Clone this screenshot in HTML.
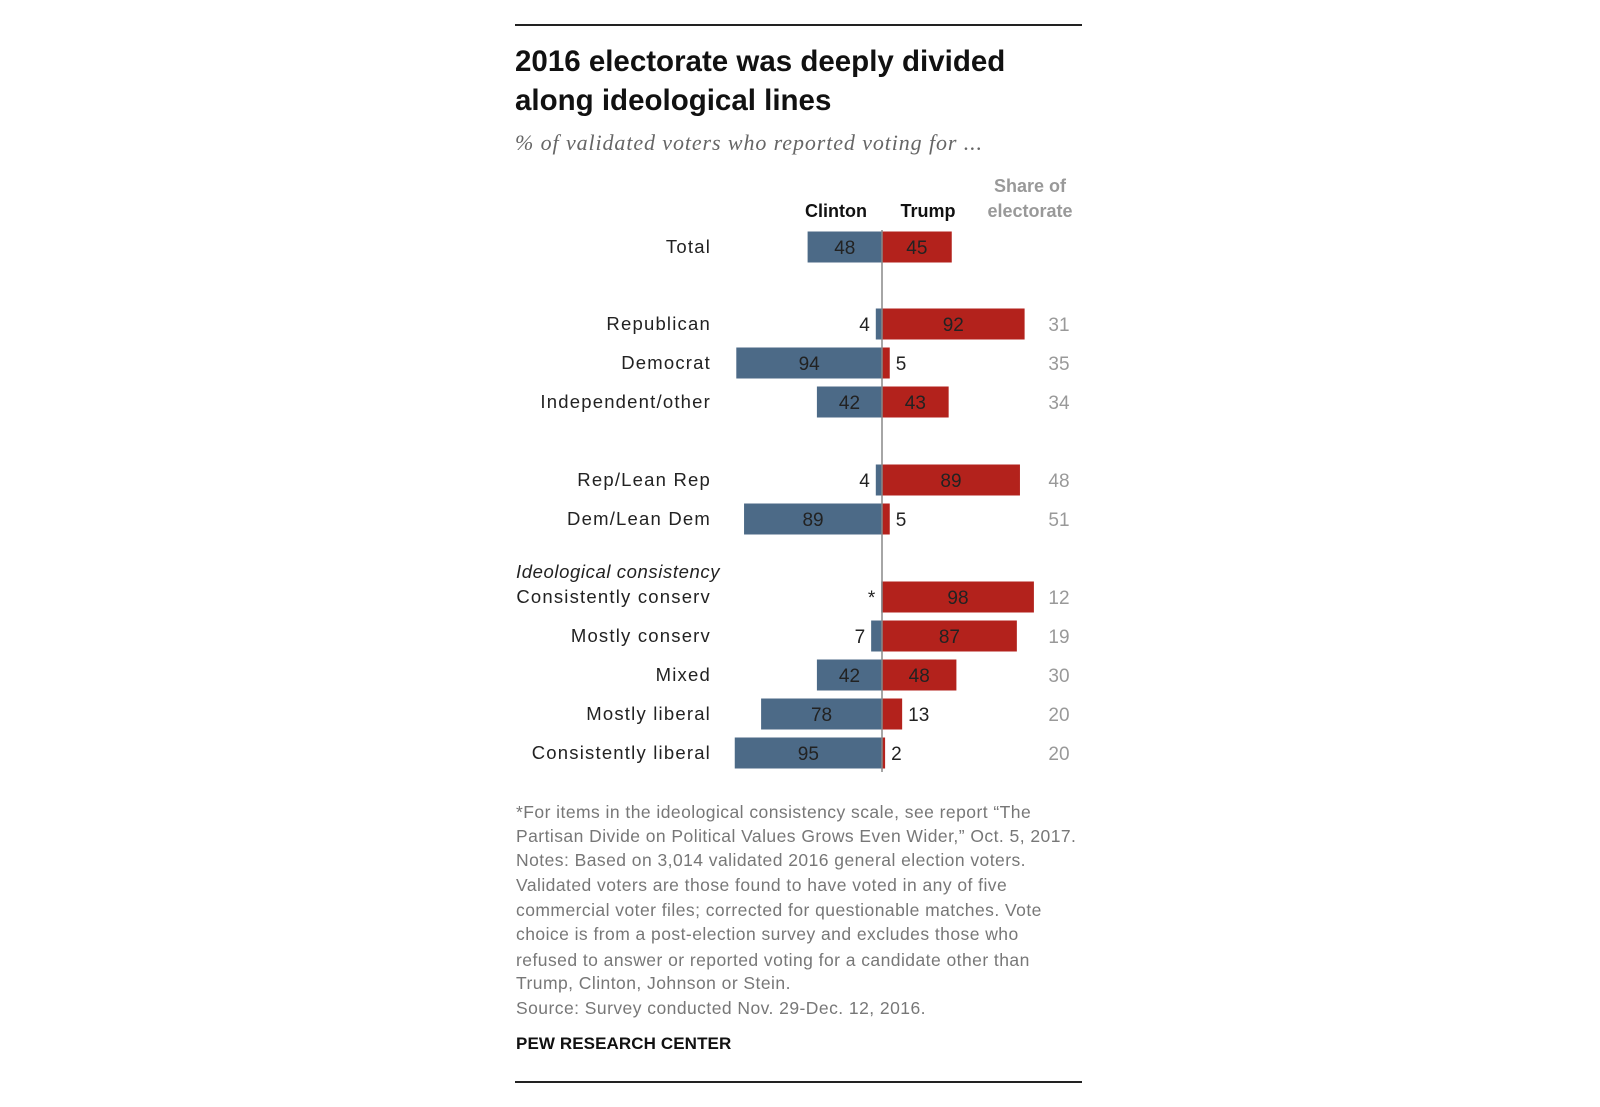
<!DOCTYPE html>
<html><head><meta charset="utf-8"><style>
html,body{margin:0;padding:0;background:#fff;}
svg{display:block;font-family:"Liberation Sans",sans-serif;}
</style></head><body>
<svg id="chart" width="1600" height="1107" viewBox="0 0 1600 1107" xmlns="http://www.w3.org/2000/svg">
<line x1="515" y1="25" x2="1082" y2="25" stroke="#222" stroke-width="2"/>
<text x="515" y="71" font-size="29.5" font-weight="bold" fill="#111">2016 electorate was deeply divided</text>
<text x="515" y="110" font-size="29.5" font-weight="bold" fill="#111">along ideological lines</text>
<text x="515" y="150" font-size="22" font-style="italic" font-family="Liberation Serif, serif" fill="#666" letter-spacing="0.9">% of validated voters who reported voting for ...</text>
<text x="836" y="217" font-size="18" font-weight="bold" text-anchor="middle" fill="#111">Clinton</text>
<text x="928" y="217" font-size="18" font-weight="bold" text-anchor="middle" fill="#111">Trump</text>
<text x="1030" y="192" font-size="18" font-weight="bold" text-anchor="middle" fill="#999">Share of</text>
<text x="1030" y="217" font-size="18" font-weight="bold" text-anchor="middle" fill="#999">electorate</text>
<text x="516" y="578" font-size="18.5" font-style="italic" fill="#222" letter-spacing="0.6">Ideological consistency</text>
<g id="bars"></g>
<g id="notes" font-size="17.5" fill="#777" letter-spacing="0.45">
<text x="516" y="818">*For items in the ideological consistency scale, see report “The</text>
<text x="516" y="842">Partisan Divide on Political Values Grows Even Wider,” Oct. 5, 2017.</text>
<text x="516" y="866">Notes: Based on 3,014 validated 2016 general election voters.</text>
<text x="516" y="891">Validated voters are those found to have voted in any of five</text>
<text x="516" y="916">commercial voter files; corrected for questionable matches. Vote</text>
<text x="516" y="940">choice is from a post-election survey and excludes those who</text>
<text x="516" y="966">refused to answer or reported voting for a candidate other than</text>
<text x="516" y="989">Trump, Clinton, Johnson or Stein.</text>
<text x="516" y="1014">Source: Survey conducted Nov. 29-Dec. 12, 2016.</text>
</g>
<text x="516" y="1049" font-size="17" font-weight="bold" fill="#111" letter-spacing="0.1">PEW RESEARCH CENTER</text>
<line x1="515" y1="1082" x2="1082" y2="1082" stroke="#222" stroke-width="2"/>
</svg>
<script>
const categories = ["Total","Republican","Democrat","Independent/other","Rep/Lean Rep","Dem/Lean Dem","Consistently conserv","Mostly conserv","Mixed","Mostly liberal","Consistently liberal"];
const clinton = [48,4,94,42,4,89,0.5,7,42,78,95];
const clintonLabels = ["48","4","94","42","4","89","*","7","42","78","95"];
const trump = [45,92,5,43,89,5,98,87,48,13,2];
const share = ["","31","35","34","48","51","12","19","30","20","20"];
const rowSlots = [0,2,3,4,6,7,9,10,11,12,13];

const axisX = 882, pxPerUnit = 1.55, barH = 31;
function xScale(v){ return v*pxPerUnit; }
function yCenter(i){
  const s = rowSlots[i];
  const base = [247,0,324,363,402,0,480,519,0,597,636,675,714,753];
  return base[s];
}
const NS="http://www.w3.org/2000/svg";
const g=document.getElementById('bars');
function mk(tag,attrs,txt){const e=document.createElementNS(NS,tag);for(const k in attrs)e.setAttribute(k,attrs[k]);if(txt!==undefined)e.textContent=txt;g.appendChild(e);return e;}
categories.forEach((c,i)=>{
  const y=yCenter(i);
  const lab=mk('text',{x:711,y:y+6,'font-size':18.5,'text-anchor':'end',fill:'#222','letter-spacing':1.2},c);
  
  
  const cw=xScale(clinton[i]);
  const cb=mk('rect',{x:axisX-cw,y:y-barH/2,width:cw,height:barH,fill:'#4c6a87'});
  
  
  const inside=clinton[i]>=20;
  const ct=mk('text',{x:inside?axisX-cw/2:axisX-cw-6,y:y+7,'font-size':19,'text-anchor':inside?'middle':'end',fill:'#222'},clintonLabels[i]);
  
  
  const tw=xScale(trump[i]);
  const tb=mk('rect',{x:axisX,y:y-barH/2,width:tw,height:barH,fill:'#b3221c'});
  
  
  const tin=trump[i]>=20;
  const tt=mk('text',{x:tin?axisX+tw/2:axisX+tw+6,y:y+7,'font-size':19,'text-anchor':tin?'middle':'start',fill:'#222'},String(trump[i]));
  
  
  if(share[i]){
    const st=mk('text',{x:1059,y:y+7,'font-size':19,'text-anchor':'middle',fill:'#999'},share[i]);
    
    
  }
});
const ax=mk('line',{x1:axisX,y1:230,x2:axisX,y2:772,stroke:'#888','stroke-width':1.5});


</script>
</body></html>
